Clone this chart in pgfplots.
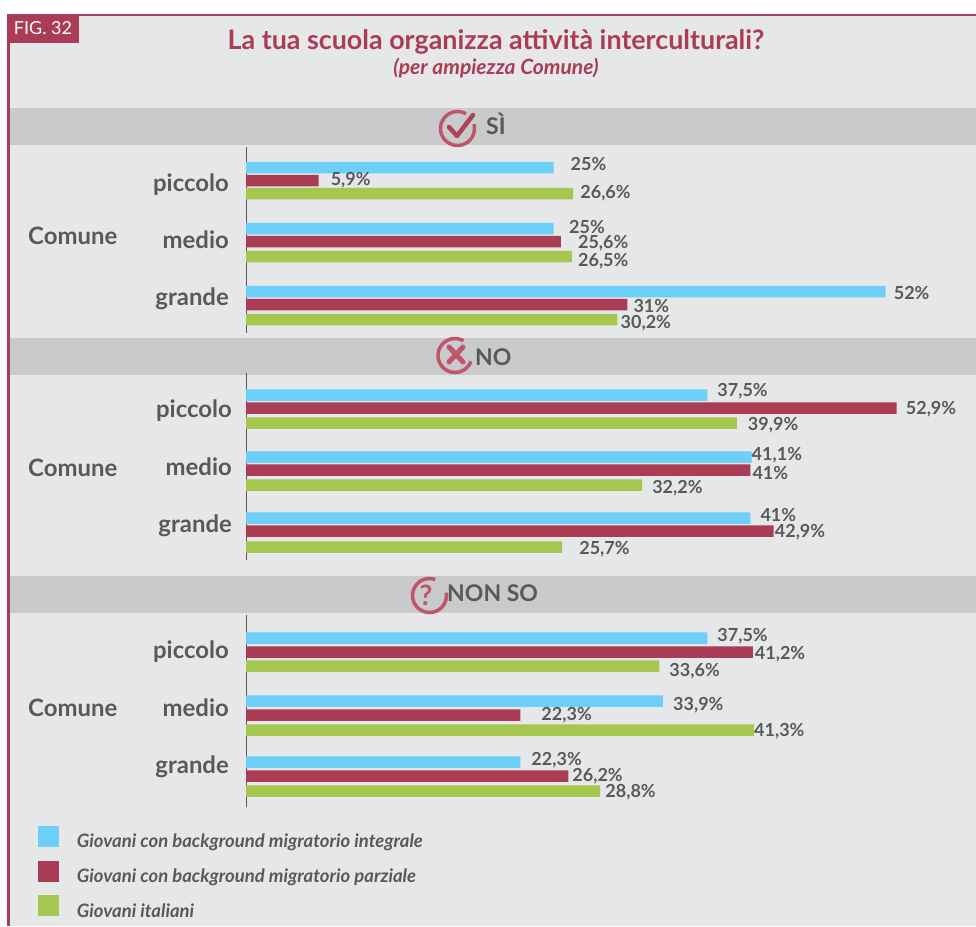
\documentclass[border=0pt]{standalone}
\usepackage{pgfplots}
\pgfplotsset{compat=1.18}
\usepackage{pgfplotstable}
\usepackage{fontspec}
\setmainfont{Lato}
\definecolor{bgc}{HTML}{E6E7E9}
\definecolor{bandc}{HTML}{C9CACC}
\definecolor{wine}{HTML}{AA3C55}
\definecolor{iconc}{HTML}{C05468}
\definecolor{txt}{HTML}{58595B}
\definecolor{sblue}{HTML}{6BCFF7}
\definecolor{sgreen}{HTML}{A5C64F}
% y = bar centre (px from top), val = value, dx/dy = label offset
\pgfplotstableread{
y val dx dy
167.5 25 17 4.5
228.5 25 15.5 2.5
291.5 52 8 -0.5
}\Aa
\pgfplotstableread{
y val dx dy
180.5 5.9 12 1.5
241.5 25.6 17 -0.5
304.5 31 6 -0.5
}\Ab
\pgfplotstableread{
y val dx dy
193.5 26.6 7 1.5
256.5 26.5 6 -3.5
319.5 30.2 3 -2.5
}\Ac
\pgfplotstableread{
y val dx dy
395 37.5 10 5
457 41.1 0 3
518 41 10 4
}\Ba
\pgfplotstableread{
y val dx dy
408 52.9 9 0
470 41 2 -2
531 42.9 1 0
}\Bb
\pgfplotstableread{
y val dx dy
423 39.9 11 -1
485 32.2 10 -2
547 25.7 17 -1
}\Bc
\pgfplotstableread{
y val dx dy
638 37.5 10 3
701 33.9 10 -3
762 22.3 11 3
}\Ca
\pgfplotstableread{
y val dx dy
652 41.2 2 -1
715 22.3 21 1
776 26.2 4 1
}\Cb
\pgfplotstableread{
y val dx dy
666 33.6 10 -4
730 41.3 0 0
791 28.8 5 0
}\Cc
\pgfplotsset{
  panel/.style={
    scale only axis, width=730pt, xmin=0, xmax=59.35,
    y dir=reverse, clip=false,
    axis x line=none, axis y line=left,
    axis line style={-, draw=txt, line width=1pt},
    xbar, /pgf/bar shift=0pt, bar width=11.5pt,
    ytick style={draw=none}, major tick length=0pt,
    yticklabels={piccolo,medio,grande},
    yticklabel style={anchor=base east, inner sep=0pt, xshift=-17pt, font=\bfseries\fontsize{23.9}{26}\selectfont, text=txt},
    point meta=x,
    nodes near coords={\pgfmathprintnumber[use comma,fixed,precision=1,assume math mode=true]{\pgfplotspointmeta}\%},
    nodes near coords style={anchor=west, inner sep=0pt, font=\bfseries\fontsize{18}{20}\selectfont, text=txt,
      xshift=\dx pt, yshift=\dy pt-1pt},
    visualization depends on={\thisrow{dx} \as \dx},
    visualization depends on={\thisrow{dy} \as \dy},
    legend image code/.code={\fill[##1] (0pt,-5.5pt) rectangle (21pt,15.5pt); \path[draw=none,fill=none] (0pt,0pt) -- (37pt,0pt);},
  },
  ser/.style={draw=none, fill=#1},
}
\begin{document}
\begin{tikzpicture}
\begin{scope}[x=1pt,y=-1pt]
\path[use as bounding box] (0,0) rectangle (976,926);
\fill[white] (0,0) rectangle (976,926);
\fill[bgc] (8,15) rectangle (976,926);
\fill[bandc] (9,108) rectangle (976,145);
\fill[bandc] (9,338) rectangle (976,375);
\fill[bandc] (9,576) rectangle (976,613);
\fill[wine] (7,14) rectangle (976,16);
\fill[wine] (7,14) rectangle (9.5,926);
\fill[wine] (7,14) rectangle (79,43);
\node[text=white,font=\fontsize{18}{20}\selectfont,anchor=center] at (43,28) {FIG. 32};
\node[text=wine,font=\bfseries\fontsize{26.85}{29}\selectfont] at (496,42) {La tua scuola organizza attività interculturali?};
\node[text=wine,font=\bfseries\itshape\fontsize{21}{23}\selectfont] at (496,68) {(per ampiezza Comune)};
% band headers
\node[text=txt,font=\bfseries\fontsize{23}{25}\selectfont,anchor=base west,inner sep=0] at (486,134) {SÌ};
\node[text=txt,font=\bfseries\fontsize{23}{25}\selectfont,anchor=base west,inner sep=0] at (475,365) {NO};
\node[text=txt,font=\bfseries\fontsize{23}{25}\selectfont,anchor=base west,inner sep=0] at (447,601) {NON SO};
% Comune labels
\foreach \yy in {236,468,708}
  \node[text=txt,font=\bfseries\fontsize{23.9}{26}\selectfont,anchor=west,inner sep=0] at (28,\yy) {Comune};
\end{scope}
% icons
\draw[iconc,line width=3.5pt,shift={(457.5pt,-128.5pt)}] (60:17pt) arc[start angle=60,end angle=375,radius=17pt];
\draw[wine!75!iconc,line width=4.5pt,line cap=round,line join=round] (449pt,-127pt) -- (457pt,-136pt) -- (473pt,-115pt);
\draw[iconc,line width=3.5pt,shift={(455pt,-355.5pt)}] (60:17pt) arc[start angle=60,end angle=340,radius=17pt];
\draw[iconc,line width=5pt,line cap=round] (449pt,-347pt) -- (463pt,-362pt) (463pt,-347pt) -- (449pt,-362pt);
\draw[iconc,line width=3.5pt,shift={(429.5pt,-595.5pt)}] (70:17pt) arc[start angle=70,end angle=370,radius=17pt];
\node[text=iconc,font=\bfseries\fontsize{28}{30}\selectfont] at (426pt,-595pt) {?};

\begin{axis}[panel, name=a1, at={(246pt,-147pt)}, anchor=north west, height=186pt, ymin=147, ymax=333,
  ytick={191,248,305}]
\addplot[ser=sblue] table[x=val,y=y]{\Aa};
\addplot[ser=wine] table[x=val,y=y]{\Ab};
\addplot[ser=sgreen] table[x=val,y=y]{\Ac};
\end{axis}

\begin{axis}[panel, name=a2, at={(246pt,-373pt)}, anchor=north west, height=187pt, ymin=373, ymax=560,
  ytick={417,475,532}, yticklabel style={xshift=3pt}]
\addplot[ser=sblue] table[x=val,y=y]{\Ba};
\addplot[ser=wine] table[x=val,y=y]{\Bb};
\addplot[ser=sgreen] table[x=val,y=y]{\Bc};
\end{axis}

\begin{axis}[panel, name=a3, at={(246pt,-615pt)}, anchor=north west, height=192pt, ymin=615, ymax=807,
  ytick={658,716,773},
  legend cell align=left,
  legend style={at={(-0.285,-0.1)}, anchor=north west, draw=none, fill=none, inner sep=0pt, outer sep=0pt,
    font=\bfseries\itshape\fontsize{18.5}{20}\selectfont, text=txt, row sep=9.5pt},
  ]
\addplot[ser=sblue] table[x=val,y=y]{\Ca};
\addplot[ser=wine] table[x=val,y=y]{\Cb};
\addplot[ser=sgreen] table[x=val,y=y]{\Cc};
\legend{Giovani con background migratorio integrale,Giovani con background migratorio parziale,Giovani italiani}
\end{axis}
\end{tikzpicture}
\end{document}
